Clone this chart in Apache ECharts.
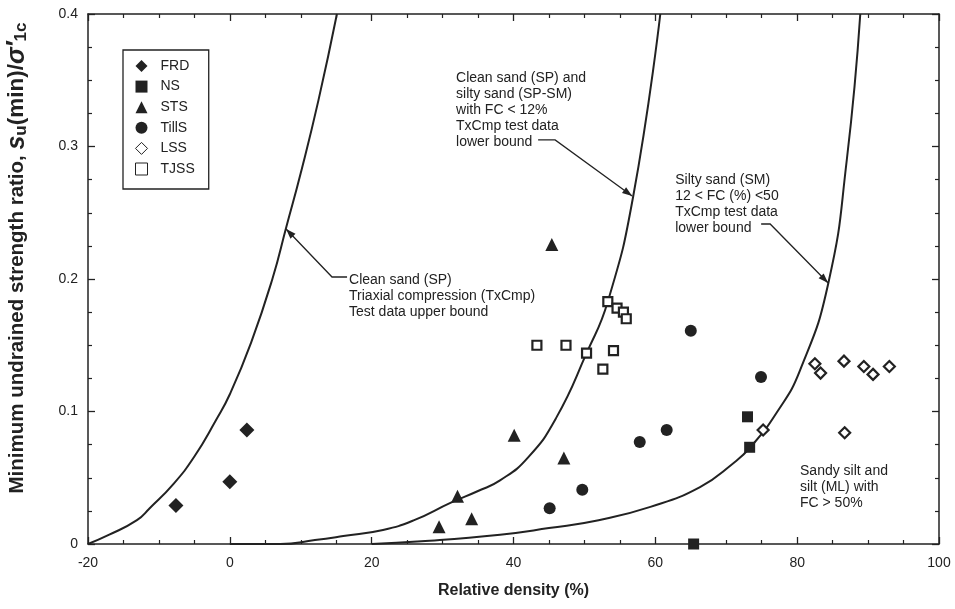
<!DOCTYPE html>
<html><head><meta charset="utf-8">
<script src="https://cdn.jsdelivr.net/npm/echarts@6/dist/echarts.min.js"></script>
<style>html,body{margin:0;padding:0;background:#fff}#c{width:955px;height:609px}</style>
</head><body><div id="c"></div>
<script>
// ---- data ----
const xTicks = [-20, 0, 20, 40, 60, 80, 100];
const yTicks = [0, 0.1, 0.2, 0.3, 0.4];

const FRD = [[-7.6, 0.029], [0, 0.047], [2.4, 0.086]];
const NS = [[65.4, 0], [73.0, 0.096], [73.3, 0.073]];
const STS = [[29.5, 0.013], [32.1, 0.036], [34.1, 0.019], [40.1, 0.082], [47.1, 0.065], [45.4, 0.226]];
const TillS = [[45.1, 0.027], [49.7, 0.041], [57.8, 0.077], [61.6, 0.086], [65.0, 0.161], [74.9, 0.126]];
const LSS = [[75.2, 0.086], [82.5, 0.136], [83.3, 0.129], [86.6, 0.138], [89.4, 0.134], [90.7, 0.128], [93.0, 0.134], [86.7, 0.084]];
const TJSS = [[43.3, 0.150], [47.4, 0.150], [50.3, 0.144], [54.1, 0.146], [52.6, 0.132], [53.3, 0.183], [54.6, 0.178], [55.5, 0.175], [55.9, 0.170]];

const upperBoundSP = [[-20, 0], [-17, 0.007], [-13.1, 0.018], [-11.3, 0.027], [-8, 0.045], [-5, 0.066], [-2, 0.093], [0, 0.113], [3, 0.152], [6, 0.2], [8, 0.24], [10, 0.28], [12.5, 0.335], [15.1, 0.4]];
const lowerBoundSP = [[0, 0], [7.1, 0], [12, 0.003], [16, 0.006], [21.6, 0.0106], [26, 0.018], [31.1, 0.031], [35, 0.04], [38.1, 0.048], [42, 0.065], [46, 0.095], [50.3, 0.144], [53.3, 0.183], [56.9, 0.263], [60.7, 0.4]];
const lowerBoundSM = [[20, 0], [27, 0.002], [38.1, 0.007], [45, 0.012], [52, 0.018], [59.3, 0.028], [66.3, 0.043], [71, 0.061], [73.4, 0.073], [77.1, 0.099], [80.4, 0.131], [84.4, 0.197], [87, 0.29], [88.9, 0.4]];

const leaders = [
  [[7.93, 0.2377], [14.41, 0.2015], [16.53, 0.2015]],
  [[56.73, 0.2626], [45.87, 0.305], [43.47, 0.305]],
  [[84.37, 0.197], [76.19, 0.2415], [74.92, 0.2415]]
];
const notes = [
  {at: [16.81, 0.2049], text: 'Clean sand (SP)\nTriaxial compression (TxCmp)\nTest data upper bound'},
  {at: [31.9, 0.3577], text: 'Clean sand (SP) and\nsilty sand (SP-SM)\nwith FC < 12%\nTxCmp test data\nlower bound'},
  {at: [62.8, 0.2804], text: 'Silty sand (SM)\n12 < FC (%) <50\nTxCmp test data\nlower bound'},
  {at: [80.4, 0.0608], text: 'Sandy silt and\nsilt (ML) with\nFC > 50%'}
];

// ---- chart ----
const FONT = '"Liberation Sans", Arial, Helvetica, sans-serif';
const INK = '#222';
const chart = echarts.init(document.getElementById('c'));

function boxAxis(extra) {
  return Object.assign({
    type: 'value',
    axisLine: {show: true, onZero: false, lineStyle: {color: INK, width: 1.5}},
    axisTick: {show: true, inside: true, length: 7, lineStyle: {color: INK, width: 1.3}},
    minorTick: {show: true, splitNumber: 4, length: 4, lineStyle: {color: INK, width: 1.2}},
    splitLine: {show: false},
    minorSplitLine: {show: false}
  }, extra);
}

const curveStyle = {type: 'line', symbol: 'none', smooth: 0.5,
  lineStyle: {color: INK, width: 2}, silent: true, z: 2};

const solid = {color: INK, opacity: 1};
const openStyle = {color: '#fff', borderColor: INK, borderWidth: 2.2, opacity: 1};

chart.setOption({
  animation: false,
  backgroundColor: '#fff',
  textStyle: {fontFamily: FONT},
  grid: {left: 88, right: 16, top: 14, bottom: 65, outerBoundsMode: 'none', containLabel: false},
  legend: {
    orient: 'vertical', left: 123, top: 50,
    borderColor: INK, borderWidth: 1.3,
    padding: [9, 14, 13, 12],
    itemWidth: 12, itemHeight: 12, itemGap: 6.6,
    symbolKeepAspect: true,
    textStyle: {fontFamily: FONT, fontSize: 14, color: INK, lineHeight: 12, padding: [0, 0, 0, 8]},
    data: [
      {name: 'FRD'}, {name: 'NS'}, {name: 'STS'}, {name: 'TillS'},
      {name: 'LSS', itemStyle: {borderWidth: 1}}, {name: 'TJSS', itemStyle: {borderWidth: 1}}
    ]
  },
  xAxis: [
    boxAxis({
      min: -20, max: 100, interval: 20, position: 'bottom',
      axisLabel: {fontSize: 14, color: INK, margin: 12, fontFamily: FONT},
      name: 'Relative density (%)', nameLocation: 'middle', nameGap: 39,
      nameTextStyle: {fontSize: 16, fontWeight: 'bold', color: INK, fontFamily: FONT}
    }),
    boxAxis({min: -20, max: 100, interval: 20, position: 'top', axisLabel: {show: false}})
  ],
  yAxis: [
    boxAxis({
      min: 0, max: 0.4, interval: 0.1, position: 'left',
      axisLabel: {fontSize: 14, color: INK, margin: 10, fontFamily: FONT,
        formatter: v => v === 0 ? '0' : v.toFixed(1)},
      name: 'Minimum undrained strength ratio, {i|s}{sub|u}{m|(min)/}{g|σ′}{sub|1c}',
      nameLocation: 'middle', nameGap: 58,
      nameTextStyle: {fontSize: 20.5, fontWeight: 'bold', color: INK, fontFamily: FONT, lineHeight: 26,
        padding: [0, 0, 0, 42],
        rich: {
          i: {fontSize: 25, fontWeight: 'bold', fontStyle: 'italic', fontFamily: FONT, color: INK, lineHeight: 26},
          m: {fontSize: 22.5, fontWeight: 'bold', fontFamily: FONT, color: INK, lineHeight: 26},
          g: {fontSize: 25, fontStyle: 'italic', fontFamily: FONT, color: INK, lineHeight: 26},
          sub: {fontSize: 17, fontWeight: 'bold', fontFamily: FONT, color: INK, verticalAlign: 'bottom', lineHeight: 16}
        }}
    }),
    boxAxis({min: 0, max: 0.4, interval: 0.1, position: 'right', axisLabel: {show: false}})
  ],
  series: [
    Object.assign({name: 'upper SP', data: upperBoundSP}, curveStyle),
    Object.assign({name: 'lower SP', data: lowerBoundSP}, curveStyle),
    Object.assign({name: 'lower SM', data: lowerBoundSM}, curveStyle),
    {name: 'FRD', type: 'scatter', symbol: 'diamond', symbolSize: 15, data: FRD, itemStyle: solid, z: 3},
    {name: 'NS', type: 'scatter', symbol: 'rect', symbolSize: 11, data: NS, itemStyle: solid, z: 3},
    {name: 'STS', type: 'scatter', symbol: 'triangle', symbolSize: 13, data: STS, itemStyle: solid, z: 3},
    {name: 'TillS', type: 'scatter', symbol: 'circle', symbolSize: 12, data: TillS, itemStyle: solid, z: 3},
    {name: 'LSS', type: 'scatter', symbol: 'diamond', symbolSize: 11, data: LSS, itemStyle: openStyle, z: 3},
    {name: 'TJSS', type: 'scatter', symbol: 'rect', symbolSize: 9, data: TJSS, itemStyle: openStyle, z: 3}
  ]
});

function drawNotes() {
  const g = [];
  leaders.forEach(path => {
    const pts = path.map(p => chart.convertToPixel({seriesIndex: 0}, p));
    g.push({type: 'polyline', shape: {points: pts}, style: {stroke: INK, lineWidth: 1.3, fill: null}, z: 5});
    const [x0, y0] = pts[0], [x1, y1] = pts[1];
    const ang = Math.atan2(y0 - y1, x0 - x1);
    const L = 10, W = 3.5;
    const bx = x0 - L * Math.cos(ang), by = y0 - L * Math.sin(ang);
    const px = -Math.sin(ang) * W, py = Math.cos(ang) * W;
    g.push({type: 'polygon', shape: {points: [[x0, y0], [bx + px, by + py], [bx - px, by - py]]}, style: {fill: INK}, z: 5});
  });
  notes.forEach(n => {
    const p = chart.convertToPixel({seriesIndex: 0}, n.at);
    g.push({type: 'text', x: p[0], y: p[1], z: 5,
      style: {text: n.text, fontSize: 14, fontFamily: FONT, fill: INK, lineHeight: 16, verticalAlign: 'top', align: 'left'}});
  });
  chart.setOption({graphic: g});
}
drawNotes();
</script>
</body></html>
